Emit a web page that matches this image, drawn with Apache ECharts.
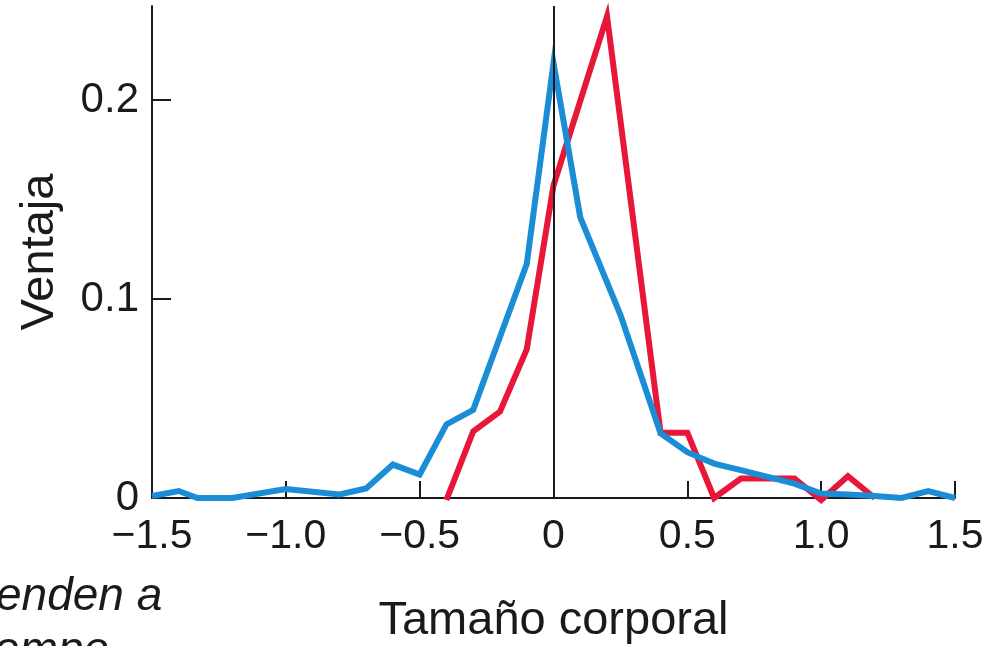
<!DOCTYPE html>
<html lang="es">
<head>
  <meta charset="UTF-8">
  <title>Ventaja vs tamaño corporal</title>
  <script src="https://cdn.jsdelivr.net/npm/echarts@6/dist/echarts.min.js"></script>
  <style>
    html, body { margin: 0; padding: 0; background: #fff; }
    #wrap { width: 1000px; height: 646px; }
  </style>
</head>
<body>
<div id="wrap"></div>
<script>
  // datos
  const blueX = [-1.5, -1.4, -1.33, -1.2, -1.0, -0.8, -0.7, -0.6, -0.5, -0.4, -0.3, -0.1, 0, 0.1, 0.25, 0.4, 0.5, 0.6, 0.7, 0.8, 0.9, 1.0, 1.1, 1.2, 1.3, 1.4, 1.5]
  const blueY = [0.001, 0.0035, 0, 0, 0.0045, 0.0018, 0.0048, 0.0168, 0.0118, 0.037, 0.0443, 0.1175, 0.2185, 0.141, 0.092, 0.0325, 0.023, 0.0173, 0.014, 0.0106, 0.0072, 0.0022, 0.0017, 0.001, 0, 0.0035, 0]
  const redX = [-0.4, -0.3, -0.2, -0.1, 0, 0.2, 0.4, 0.5, 0.6, 0.7, 0.8, 0.9, 1.0, 1.1, 1.2]
  const redY = [-0.001, 0.0335, 0.0434, 0.0746, 0.157, 0.242, 0.0328, 0.0328, 0, 0.0098, 0.0098, 0.0098, -0.001, 0.011, 0]
  const xTicks = [-1.5, -1.0, -0.5, 0, 0.5, 1.0, 1.5]
  const yTicks = [0, 0.1, 0.2]

  const font = "'Liberation Sans', Arial, sans-serif"
  const ink = '#1a1a1a'

  const pairs = (xs, ys) => xs.map((x, i) => [x, ys[i]])
  const fmtX = v => v === 0 ? '0' : (v < 0 ? '\u2212' : '') + Math.abs(v).toFixed(1)
  const fmtY = v => v === 0 ? '0' : v.toFixed(1)

  const chart = echarts.init(document.querySelector('#wrap'))

  chart.setOption({
    animation: false,
    grid: { left: 152, right: 45, top: 6, bottom: 148, containLabel: false, outerBoundsMode: 'none' },
    xAxis: {
      type: 'value',
      min: -1.5,
      max: 1.5,
      name: 'Tamaño corporal',
      nameLocation: 'middle',
      nameGap: 100,
      nameTextStyle: { fontFamily: font, fontSize: 47, color: ink },
      axisLine: { onZero: false, lineStyle: { color: ink, width: 2 } },
      axisTick: { inside: true, length: 17, customValues: xTicks, lineStyle: { color: ink, width: 2 } },
      axisLabel: {
        customValues: xTicks,
        formatter: fmtX,
        fontFamily: font, fontSize: 41, color: ink, margin: 18
      },
      splitLine: { show: false }
    },
    yAxis: {
      type: 'value',
      min: 0,
      max: 0.2472,
      name: 'Ventaja',
      nameLocation: 'middle',
      nameGap: 88,
      nameTextStyle: { fontFamily: font, fontSize: 47, color: ink },
      axisLine: { show: true, onZero: false, lineStyle: { color: ink, width: 2 } },
      axisTick: { show: true, inside: true, length: 19, customValues: yTicks, lineStyle: { color: ink, width: 2 } },
      axisLabel: {
        customValues: yTicks,
        formatter: fmtY,
        fontFamily: font, fontSize: 42, color: ink, margin: 13
      },
      splitLine: { show: false }
    },
    series: [
      {
        name: 'azul',
        type: 'line',
        data: pairs(blueX, blueY),
        showSymbol: false,
        clip: false,
        lineStyle: { color: '#1b8dd6', width: 6, join: 'miter' },
        z: 3,
        markLine: {
          silent: true,
          symbol: 'none',
          label: { show: false },
          lineStyle: { color: ink, width: 2, type: 'solid' },
          data: [{ xAxis: 0 }],
          z: 4
        }
      },
      {
        name: 'rojo',
        type: 'line',
        data: pairs(redX, redY),
        showSymbol: false,
        clip: false,
        lineStyle: { color: '#e8173a', width: 6, join: 'miter' },
        z: 2
      }
    ],
    graphic: [
      {
        type: 'text',
        left: -4,
        top: 574,
        style: { text: 'enden a', font: 'italic 46px ' + font, fill: ink }
      },
      {
        type: 'text',
        left: -6,
        top: 628,
        style: { text: 'ompe', font: 'italic 46px ' + font, fill: ink }
      }
    ]
  })
</script>
</body>
</html>
